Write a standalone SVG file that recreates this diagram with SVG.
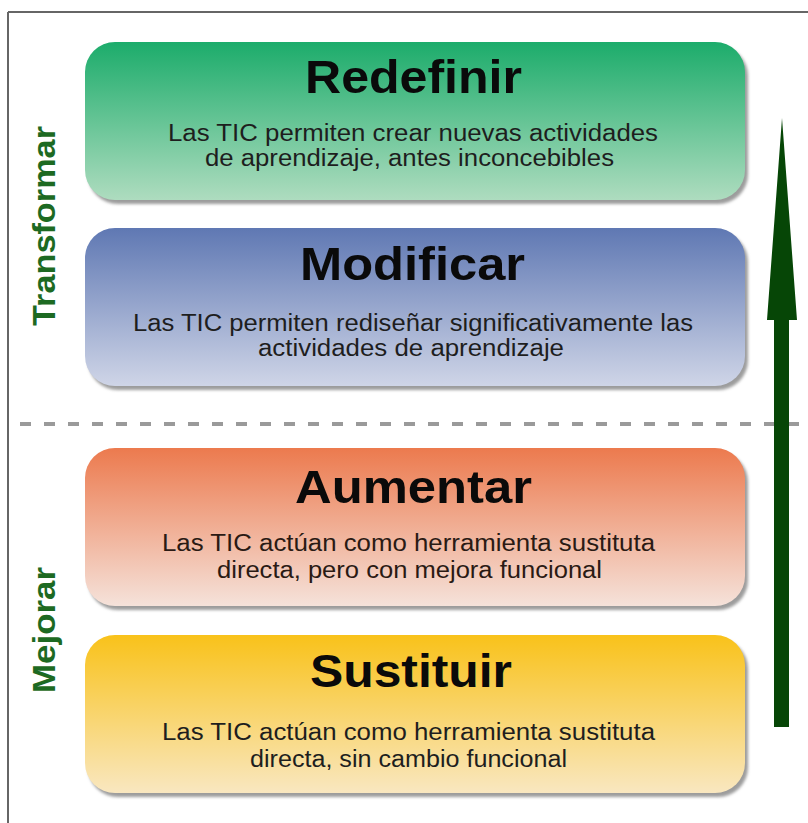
<svg xmlns="http://www.w3.org/2000/svg" width="808" height="823" viewBox="0 0 808 823">
<defs>
<linearGradient id="gGreen" x1="0" y1="0" x2="0" y2="1"><stop offset="0" stop-color="#1cac6b"/><stop offset="1" stop-color="#aedcbf"/></linearGradient>
<linearGradient id="gBlue" x1="0" y1="0" x2="0" y2="1"><stop offset="0" stop-color="#5f78b3"/><stop offset="1" stop-color="#cfd5e7"/></linearGradient>
<linearGradient id="gOrange" x1="0" y1="0" x2="0" y2="1"><stop offset="0" stop-color="#ec7a4e"/><stop offset="1" stop-color="#f5e2da"/></linearGradient>
<linearGradient id="gYellow" x1="0" y1="0" x2="0" y2="1"><stop offset="0" stop-color="#f9c21a"/><stop offset="1" stop-color="#f9e7c0"/></linearGradient>
<filter id="blur" x="-5%" y="-5%" width="110%" height="115%"><feGaussianBlur stdDeviation="1.5"/></filter>
</defs>
<style>
.shadow{fill:#9c9c9c;filter:url(#blur)}
.title{font-family:"Liberation Sans",Arial,sans-serif;font-weight:bold;font-size:46px;fill:#0a0a0a}
.sub{font-family:"Liberation Sans",Arial,sans-serif;font-size:23px;fill:#1e1e1e}
.side{font-family:"Liberation Sans",Arial,sans-serif;font-weight:bold;font-size:32px;fill:#1d6a22}
</style>
<rect width="808" height="823" fill="#ffffff"/>
<g id="frame" fill="none" stroke="#666" stroke-width="2">
<line x1="8" y1="12" x2="808" y2="12"/>
<line x1="8" y1="12" x2="8" y2="823"/>
</g>
<g id="divider">
<line x1="20" y1="424" x2="808" y2="424" stroke="#9a9a9a" stroke-width="4" stroke-dasharray="11 13"/>
</g>
<g id="redefinir">
<rect class="shadow" x="88" y="46" width="660" height="158" rx="30"/>
<rect x="85" y="42" width="660" height="158" rx="30" fill="url(#gGreen)"/>
<text class="title" x="305" y="93" textLength="217" lengthAdjust="spacingAndGlyphs">Redefinir</text>
<text class="sub" x="168" y="141" textLength="490" lengthAdjust="spacingAndGlyphs">Las TIC permiten crear nuevas actividades</text>
<text class="sub" x="205" y="166" textLength="409" lengthAdjust="spacingAndGlyphs">de aprendizaje, antes inconcebibles</text>
</g>
<g id="modificar">
<rect class="shadow" x="88" y="232" width="660" height="158" rx="30"/>
<rect x="85" y="228" width="660" height="158" rx="30" fill="url(#gBlue)"/>
<text class="title" x="300" y="280" textLength="225" lengthAdjust="spacingAndGlyphs">Modificar</text>
<text class="sub" x="133" y="331" textLength="560" lengthAdjust="spacingAndGlyphs">Las TIC permiten rediseñar significativamente las</text>
<text class="sub" x="258" y="356" textLength="306" lengthAdjust="spacingAndGlyphs">actividades de aprendizaje</text>
</g>
<g id="aumentar">
<rect class="shadow" x="88" y="452" width="660" height="158" rx="30"/>
<rect x="85" y="448" width="660" height="158" rx="30" fill="url(#gOrange)"/>
<text class="title" x="295" y="503" textLength="237" lengthAdjust="spacingAndGlyphs">Aumentar</text>
<text class="sub" x="162" y="551" textLength="493" lengthAdjust="spacingAndGlyphs" style="fill:#2a1a14">Las TIC actúan como herramienta sustituta</text>
<text class="sub" x="217" y="578" textLength="385" lengthAdjust="spacingAndGlyphs" style="fill:#2a1a14">directa, pero con mejora funcional</text>
</g>
<g id="sustituir">
<rect class="shadow" x="88" y="639" width="660" height="158" rx="30"/>
<rect x="85" y="635" width="660" height="158" rx="30" fill="url(#gYellow)"/>
<text class="title" x="310" y="687" textLength="202" lengthAdjust="spacingAndGlyphs">Sustituir</text>
<text class="sub" x="162" y="740" textLength="493" lengthAdjust="spacingAndGlyphs">Las TIC actúan como herramienta sustituta</text>
<text class="sub" x="250" y="767" textLength="317" lengthAdjust="spacingAndGlyphs">directa, sin cambio funcional</text>
</g>
<g id="label-transformar">
<text class="side" transform="translate(55,326) rotate(-90)" x="0" y="0" textLength="200" lengthAdjust="spacingAndGlyphs">Transformar</text>
</g>
<g id="label-mejorar">
<text class="side" transform="translate(55,693) rotate(-90)" x="0" y="0" textLength="126" lengthAdjust="spacingAndGlyphs">Mejorar</text>
</g>
<g id="connectors">
<path d="M774,727 L774,320 L767,320 L782,118 L797,320 L789,320 L789,727 Z" fill="#064606"/>
</g>
</svg>
